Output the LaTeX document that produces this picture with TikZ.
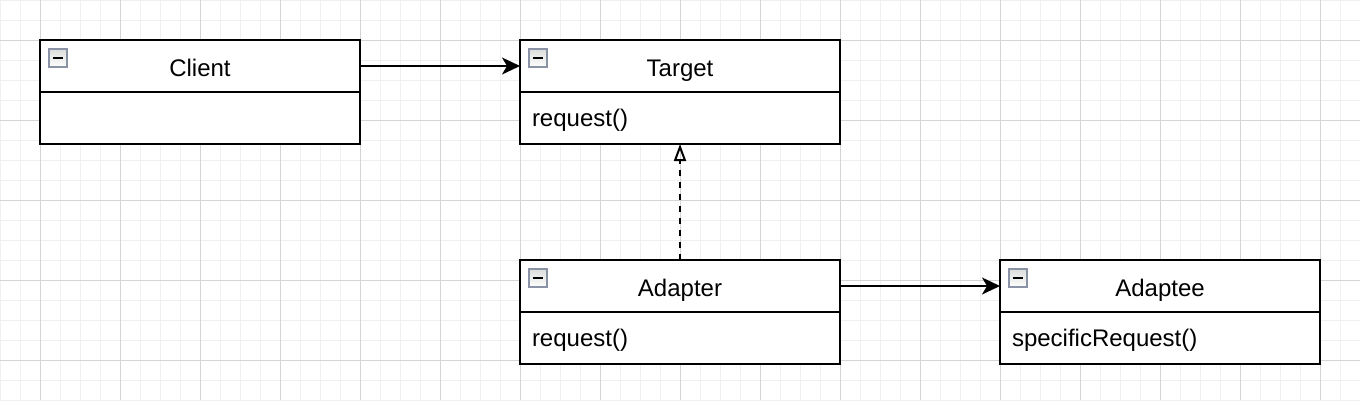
\documentclass[tikz,border=0pt]{standalone}
\usepackage{fontspec}
\setmainfont{Liberation Sans}
\usetikzlibrary{arrows.meta,positioning}
\definecolor{gridminor}{HTML}{F0F0F0}
\definecolor{gridmajor}{HTML}{D4D4D4}
\definecolor{iconborder}{HTML}{8A93A6}
\definecolor{icontop}{HTML}{DCDCDC}
\tikzset{
  hdr/.style={draw, line width=2, outer sep=0, minimum width=320, minimum height=52, inner sep=0,
    text height=20, text depth=0,
    fill=white, font=\fontsize{24}{28}\selectfont},
  member/.style={draw, line width=2, outer sep=0, minimum height=52, text width=296, inner xsep=12,
    inner ysep=0, text height=17.4, text depth=0,
    align=left, fill=white, font=\fontsize{24}{28}\selectfont, anchor=north},
  assoc/.style={line width=2, -{Stealth[length=18, width=17, inset=5]}},
  realize/.style={line width=2, dash pattern=on 6 off 6, -{Triangle[open, length=17, width=12, line width=2]}},
  collapse/.pic={
    \draw[iconborder, line width=2, top color=icontop, bottom color=white] (0,0) rectangle (18,18);
    \draw[black, line width=2.5] (4,9) -- (14,9);
  }
}
\begin{document}
\begin{tikzpicture}[x=1pt, y=-1pt]
\useasboundingbox (0,0) rectangle (1360,400);
\fill[white] (0,0) rectangle (1360,400);
% grid
\foreach \x in {0,20,...,1360} \draw[gridminor, line width=1] (\x,0) -- (\x,400);
\foreach \y in {0,20,...,400} \draw[gridminor, line width=1] (0,\y) -- (1360,\y);
\foreach \x in {40,120,...,1360} \draw[gridmajor, line width=1] (\x,0) -- (\x,400);
\foreach \y in {40,120,...,400} \draw[gridmajor, line width=1] (0,\y) -- (1360,\y);

% classes
\node[hdr] (client) at (200,66) {Client};
\node[member] (clientb) at (client.south) {};

\node[hdr] (target) at (680,66) {Target};
\node[member] (targetb) at (target.south) {request()};

\node[hdr] (adapter) at (680,286) {Adapter};
\node[member] (adapterb) at (adapter.south) {request()};

\node[hdr] (adaptee) at (1160,286) {Adaptee};
\node[member] (adapteeb) at (adaptee.south) {specificRequest()};

% collapse icons
\pic at ([shift={(9,9)}]client.north west) {collapse};
\pic at ([shift={(9,9)}]target.north west) {collapse};
\pic at ([shift={(9,9)}]adapter.north west) {collapse};
\pic at ([shift={(9,9)}]adaptee.north west) {collapse};

% connectors
\draw[assoc] (client.east) -- (target.west);
\draw[realize] (adapter.north) -- (targetb.south);
\draw[assoc] (adapter.east) -- (adaptee.west);
\end{tikzpicture}
\end{document}
